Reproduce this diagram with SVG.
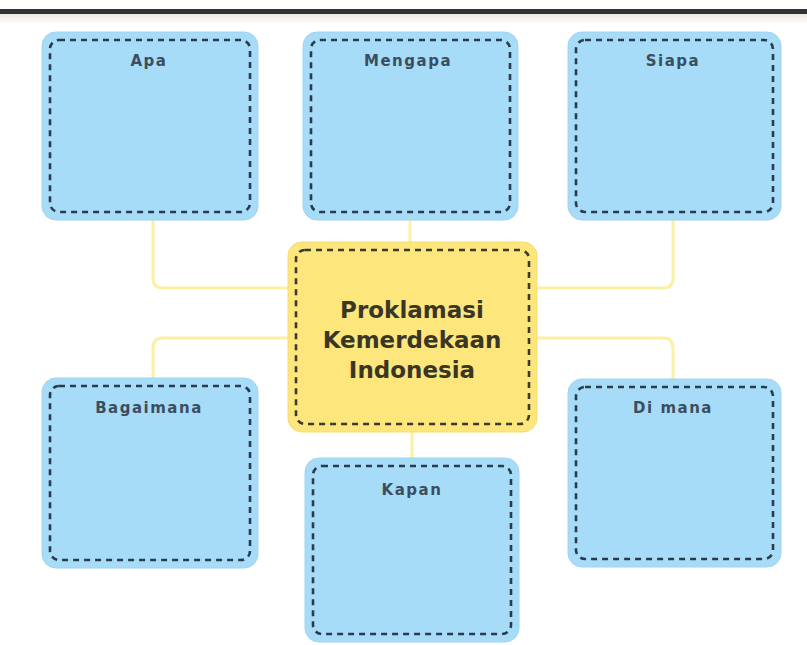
<svg xmlns="http://www.w3.org/2000/svg" width="807" height="645" viewBox="0 0 807 645">
<defs>
<linearGradient id="topfade" x1="0" y1="0" x2="0" y2="1">
<stop offset="0" stop-color="#efe6dc"/>
<stop offset="1" stop-color="#ffffff"/>
</linearGradient>
<style>
.box{fill:#a6dcf8;stroke:#9fd4f0;stroke-width:1}
.dash{fill:none;stroke:#2b3b4e;stroke-width:2.6;stroke-dasharray:6 5}
.cbox{fill:#fde67c;stroke:#f7dc6e;stroke-width:1}
.cdash{fill:none;stroke:#3b3a2c;stroke-width:2.6;stroke-dasharray:6 5}
.lbl{font-family:"DejaVu Sans","Liberation Sans",sans-serif;font-size:15px;font-weight:bold;letter-spacing:1.5px;fill:#3d4d60;text-anchor:middle}
.title{font-family:"DejaVu Sans","Liberation Sans",sans-serif;font-size:23px;font-weight:bold;fill:#3a3626;text-anchor:middle}
.conn{fill:none;stroke:#fbf0a4;stroke-width:3}
</style>
</defs>
<rect x="0" y="0" width="807" height="645" fill="#ffffff"/>
<rect x="0" y="9" width="807" height="5" fill="#2c3339"/>
<rect x="0" y="14" width="807" height="10" fill="url(#topfade)"/>

<g id="connectors">
<path class="conn" d="M153,220 V278 Q153,288 163,288 H288"/>
<path class="conn" d="M673,220 V278 Q673,288 663,288 H537"/>
<path class="conn" d="M410,220 V242"/>
<path class="conn" d="M288,338 H163 Q153,338 153,348 V378"/>
<path class="conn" d="M537,338 H663 Q673,338 673,348 V379"/>
<path class="conn" d="M412,432 V458"/>
</g>

<g id="node-apa">
<rect class="box" x="42" y="32" width="216" height="188" rx="14"/>
<rect class="dash" x="50" y="40" width="200" height="172" rx="9"/>
<text class="lbl" x="149" y="66">Apa</text>
</g>

<g id="node-mengapa">
<rect class="box" x="303" y="32" width="215" height="188" rx="14"/>
<rect class="dash" x="311" y="40" width="199" height="172" rx="9"/>
<text class="lbl" x="408" y="66">Mengapa</text>
</g>

<g id="node-siapa">
<rect class="box" x="568" y="32" width="213" height="188" rx="14"/>
<rect class="dash" x="576" y="40" width="197" height="172" rx="9"/>
<text class="lbl" x="673" y="66">Siapa</text>
</g>

<g id="node-center">
<rect class="cbox" x="288" y="242" width="249" height="190" rx="14"/>
<rect class="cdash" x="296" y="250" width="233" height="174" rx="9"/>
<text class="title" x="412" y="318">Proklamasi</text>
<text class="title" x="412" y="348">Kemerdekaan</text>
<text class="title" x="412" y="378">Indonesia</text>
</g>

<g id="node-bagaimana">
<rect class="box" x="42" y="378" width="216" height="190" rx="14"/>
<rect class="dash" x="50" y="386" width="200" height="174" rx="9"/>
<text class="lbl" x="149" y="413">Bagaimana</text>
</g>

<g id="node-kapan">
<rect class="box" x="305" y="458" width="214" height="184" rx="14"/>
<rect class="dash" x="313" y="466" width="198" height="168" rx="9"/>
<text class="lbl" x="412" y="495">Kapan</text>
</g>

<g id="node-dimana">
<rect class="box" x="568" y="379" width="213" height="188" rx="14"/>
<rect class="dash" x="576" y="387" width="197" height="172" rx="9"/>
<text class="lbl" x="673" y="413">Di mana</text>
</g>
</svg>
